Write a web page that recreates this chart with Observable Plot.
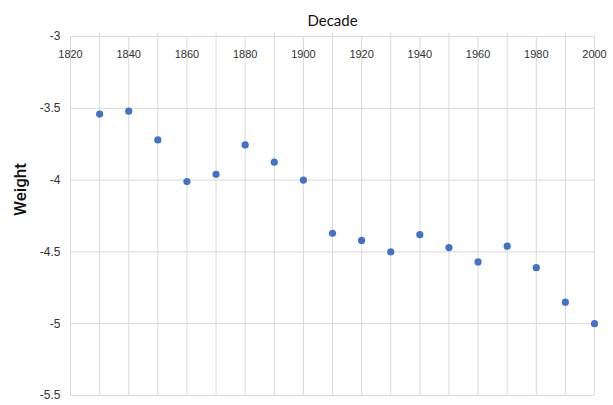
<!DOCTYPE html>
<html>
<head>
<meta charset="utf-8">
<script src="https://cdn.jsdelivr.net/npm/d3@7"></script>
<script src="https://cdn.jsdelivr.net/npm/@observablehq/plot@0.6"></script>
<style>
  html, body { margin: 0; padding: 0; background: #fff; }
  #chart { width: 613px; height: 405px; }
</style>
</head>
<body>
<div id="chart"></div>
<script>
const decades = [1830, 1840, 1850, 1860, 1870, 1880, 1890, 1900, 1910, 1920, 1930, 1940, 1950, 1960, 1970, 1980, 1990, 2000];
const weights = [-3.54, -3.52, -3.72, -4.01, -3.96, -3.755, -3.875, -4.0, -4.37, -4.42, -4.5, -4.38, -4.47, -4.57, -4.46, -4.61, -4.85, -5.0];
const xTicks = [1820, 1840, 1860, 1880, 1900, 1920, 1940, 1960, 1980, 2000];
const xMinorTicks = [1830, 1850, 1870, 1890, 1910, 1930, 1950, 1970, 1990];
const yTicks = [-3, -3.5, -4, -4.5, -5, -5.5];
const xTitle = "Decade";
const yTitle = "Weight";

const data = decades.map((d, i) => ({decade: d, weight: weights[i]}));
const grid = "#d9d9d9";

const chart = Plot.plot({
  width: 613,
  height: 405,
  marginTop: 36,
  marginLeft: 70,
  marginRight: 19,
  marginBottom: 10,
  style: {fontFamily: "'Liberation Sans', Arial, sans-serif", fontSize: "11px", color: "#333", background: "#fff"},
  x: {domain: [1820, 2000]},
  y: {domain: [-5.5, -3]},
  marks: [
    Plot.gridX(xTicks, {stroke: grid, strokeOpacity: 1, strokeWidth: 1}),
    Plot.gridY(yTicks, {stroke: grid, strokeOpacity: 1, strokeWidth: 1}),
    Plot.tickX(xMinorTicks, {x: d => d, y1: -3, y2: -3, stroke: grid, insetTop: -3}),
    Plot.axisX(xTicks, {anchor: "top", tickSize: 0, tickPadding: -21, tickFormat: d => String(d), label: null, fill: "#333"}),
    Plot.axisY(yTicks, {anchor: "left", tickSize: 0, tickPadding: 10, tickFormat: d => String(d), label: null, fill: "#333", fontSize: 12}),
    Plot.dot(data, {x: "decade", y: "weight", r: 3.6, fill: "#4472C4", stroke: null}),
    Plot.text([xTitle], {frameAnchor: "top", dy: -21, fontSize: 15, fontFamily: "Lato, 'Open Sans', sans-serif", fill: "#111"}),
    Plot.text([yTitle], {frameAnchor: "left", dx: -50, rotate: -90, fontSize: 17, fontWeight: 500, fontFamily: "Roboto, 'Liberation Sans', Arial, sans-serif", fill: "#111"})
  ]
});
document.getElementById("chart").append(chart);
</script>
</body>
</html>
